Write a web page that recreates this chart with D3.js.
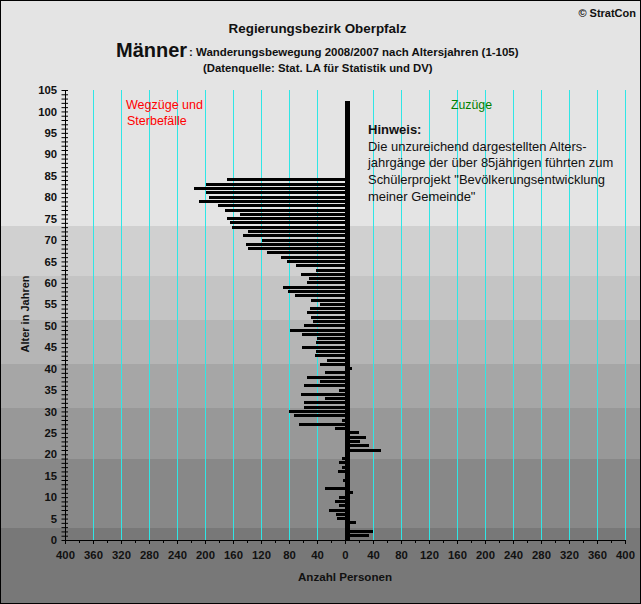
<!DOCTYPE html>
<html>
<head>
<meta charset="utf-8">
<script src="https://cdn.jsdelivr.net/npm/d3@7/dist/d3.min.js"></script>
<style>
body { margin: 0; background: #fff; }
svg { display: block; }
text { font-family: "Liberation Sans", Arial, sans-serif; fill: #111; }
</style>
</head>
<body>
<svg id="chart" width="641" height="604"></svg>
<script>
// ages 1..84
var wegzuege = [0,0,0,0,12,13,23,9,15,9,0,28,0,3,0,10,5,9,5,0,
    0,0,0,0,0,15,66,5,73,80,58,58,28,63,9,58,36,55,28,0,
    36,26,43,42,62,42,40,62,79,58,46,48,55,50,36,49,72,82,89,55,
    52,63,42,70,83,92,112,139,141,118,146,139,162,165,169,150,172,182,208,195,
    199,216,198,169];
// ages 1..40
var zuzuege = [34,40,0,15,0,0,0,0,0,0,12,0,0,0,0,0,0,0,0,0,
    51,34,22,30,20,0,0,0,0,0,0,0,0,0,0,0,0,0,0,10];

var gridValues = [-360,-320,-280,-240,-200,-160,-120,-80,-40,40,80,120,160,200,240,280,320,360,400];
var xTicksMajor = d3.range(-400, 401, 40);
var xTicksMinor = d3.range(-400, 401, 20);
var yTicksAll = d3.range(0, 106);

// background steps, upper age limit of each step
var bandAges = [2.8, 18.9, 30.8, 41, 51.3, 61.6, 73.3];
var bandColors = ["#787878","#888888","#989898","#a6a6a6","#b5b5b5","#c4c4c4","#d0d0d0","#e4e4e4"];

var centerTop = 102.4;   // black centre column
var centerWidth = 7;

var hinweis = ["Die unzureichend dargestellten Alters-",
    "jahrgänge der über 85jährigen führten zum",
    "Schülerprojekt \"Bevölkerungsentwicklung",
    "meiner Gemeinde\""];

var W = 641, H = 604;
var svg = d3.select("#chart");
var x = d3.scaleLinear().domain([-400, 400]).range([65, 625]);
var y = d3.scaleLinear().domain([0, 105]).range([540, 90]);

// background
var bandEdges = [H].concat(bandAges.map(y)).concat([0]);
svg.selectAll("rect.band").data(bandColors).enter().append("rect")
    .attr("class", "band")
    .attr("x", 0).attr("width", W)
    .attr("y", function(d, i) { return Math.round(bandEdges[i+1]); })
    .attr("height", function(d, i) { return Math.round(bandEdges[i]) - Math.round(bandEdges[i+1]); })
    .attr("fill", function(d) { return d; });

// grid
svg.selectAll("line.grid").data(gridValues).enter().append("line")
    .attr("class", "grid")
    .attr("x1", function(d) { return x(d) + 0.5; })
    .attr("x2", function(d) { return x(d) + 0.5; })
    .attr("y1", y(105)).attr("y2", y(0))
    .attr("stroke", "#2fe6e6").attr("stroke-width", 1);

// bars, snapped so a gap stays between the rows
var barH = 3;
function barY(d, i) { return Math.round(y(i+1) - barH/2); }
svg.selectAll("rect.left").data(wegzuege).enter().append("rect")
    .attr("class", "left")
    .attr("x", function(d) { return x(-d); })
    .attr("width", function(d) { return x(0) - x(-d); })
    .attr("y", barY)
    .attr("height", barH)
    .attr("shape-rendering", "crispEdges");
svg.selectAll("rect.right").data(zuzuege).enter().append("rect")
    .attr("class", "right")
    .attr("x", x(0))
    .attr("width", function(d) { return x(d) - x(0); })
    .attr("y", barY)
    .attr("height", barH)
    .attr("shape-rendering", "crispEdges");
svg.append("rect")
    .attr("x", x(0)).attr("width", x(centerWidth) - x(0))
    .attr("y", y(centerTop)).attr("height", y(0) - y(centerTop))
    .attr("shape-rendering", "crispEdges");

// axes
var gy = svg.append("g").attr("transform", "translate(" + x(-400) + ",0)")
    .call(d3.axisLeft(y).tickValues(yTicksAll).tickSizeOuter(0)
        .tickFormat(function(d) { return d % 5 == 0 ? d : ""; }));
gy.selectAll("line").attr("x1", -3.5).attr("x2", 3).attr("stroke", "#000");
gy.selectAll("text").attr("x", -8);

var gxMinor = svg.append("g").attr("transform", "translate(0," + y(0) + ")")
    .call(d3.axisBottom(x).tickValues(xTicksMinor).tickSize(3).tickSizeOuter(0).tickFormat(""));
var gx = svg.append("g").attr("transform", "translate(0," + y(0) + ")")
    .call(d3.axisBottom(x).tickValues(xTicksMajor).tickSize(4).tickSizeOuter(0)
        .tickFormat(function(d) { return Math.abs(d); }));
gx.selectAll("text").attr("y", 11);
svg.selectAll(".domain").attr("stroke", "#000");
svg.selectAll("g .tick line").attr("stroke", "#000");
svg.selectAll("g text").style("font-size", "11.3px").style("font-weight", "bold").style("font-family", "Liberation Sans");

// texts
function label(txt, px, py, size, weight, anchor, color) {
    return svg.append("text").text(txt)
        .attr("x", px).attr("y", py)
        .style("font-size", size + "px")
        .style("font-weight", weight)
        .attr("text-anchor", anchor || "start")
        .style("fill", color || "#111");
}

label("© StratCon", 636, 17, 11, "bold", "end");
label("Regierungsbezirk Oberpfalz", 317.5, 33, 13.4, "bold", "middle");
label("Männer", 116, 57, 20, "bold");
label(": Wanderungsbewegung 2008/2007 nach Altersjahren (1-105)", 189, 56, 11.46, "bold");
label("(Datenquelle: Stat. LA für Statistik und DV)", 203, 72, 11.35, "bold");

label("Wegzüge und", 126, 109, 12.5, "normal", "start", "#ff0000");
label("Sterbefälle", 127, 125, 12.5, "normal", "start", "#ff0000");
label("Zuzüge", 451, 109, 12.3, "normal", "start", "#008000");

label("Hinweis:", 368, 134, 13, "bold");
hinweis.forEach(function(line, i) {
    label(line, 368, 150.5 + i*16.7, 12.95, "normal");
});

label("Anzahl Personen", 345, 581, 11.6, "bold", "middle");
label("Alter in Jahren", 0, 0, 11, "bold", "middle")
    .attr("transform", "translate(29,314) rotate(-90)");

// border
svg.append("rect").attr("x", 0.5).attr("y", 0.5)
    .attr("width", W-1).attr("height", H-1)
    .attr("fill", "none").attr("stroke", "#000");
</script>
</body>
</html>
